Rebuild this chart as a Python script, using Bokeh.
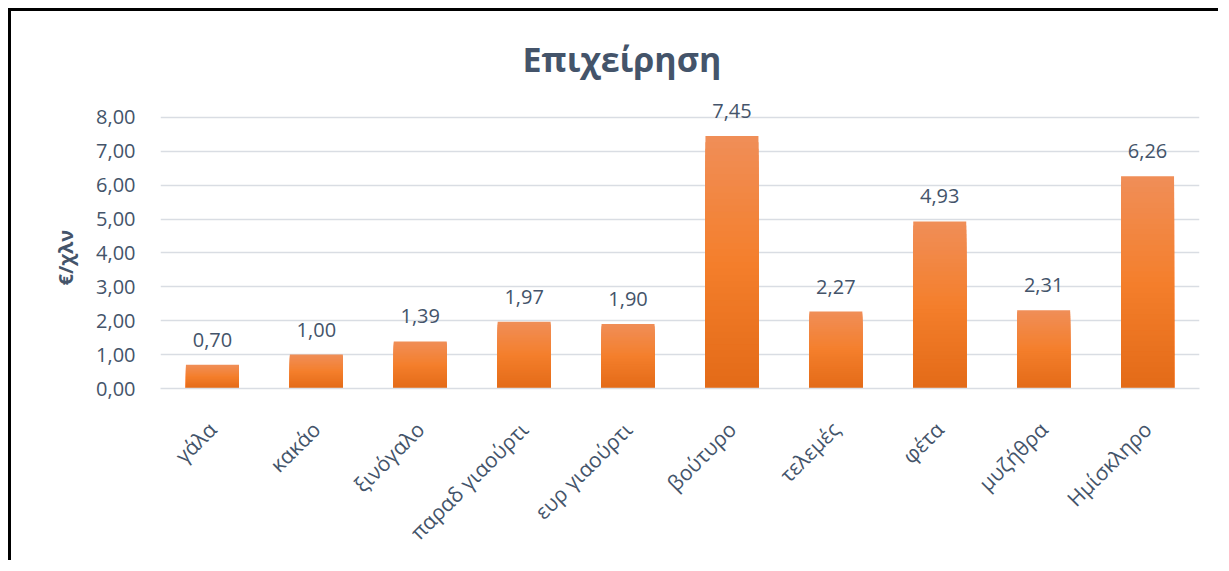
import math
from bokeh.plotting import figure
from bokeh.models import (ColumnDataSource, FactorRange, Range1d, FixedTicker,
                          CustomJSTickFormatter, LabelSet, Title)
from bokeh.core.properties import value
from bokeh.embed import file_html
from bokeh.resources import INLINE

categories = ["γάλα", "κακάο", "ξινόγαλο", "παραδ γιαούρτι", "ευρ γιαούρτι",
              "βούτυρο", "τελεμές", "φέτα", "μυζήθρα", "Ημίσκληρο"]
values = [0.70, 1.00, 1.39, 1.97, 1.90, 7.45, 2.27, 4.93, 2.31, 6.26]
y_ticks = [0, 1, 2, 3, 4, 5, 6, 7, 8]
title_text = "Επιχείρηση"
y_label = "€/χλν"

TEXT = "#44546A"
FONT = "Open Sans"

# gradient stops (bottom -> middle -> top)
stops = [(0.0, (0xE3, 0x6A, 0x17)), (0.5, (0xF4, 0x7F, 0x2C)), (1.0, (0xF0, 0x8E, 0x58))]


def grad(t):
    for (t0, c0), (t1, c1) in zip(stops[:-1], stops[1:]):
        if t <= t1:
            f = (t - t0) / (t1 - t0)
            return "#%02x%02x%02x" % tuple(int(round(a + (b - a) * f)) for a, b in zip(c0, c1))
    return "#%02x%02x%02x" % stops[-1][1]


N = 40
xs, tops, cols = [], [], []
for k in range(N - 1, -1, -1):
    for c, v in zip(categories, values):
        xs.append(c)
        tops.append(v * (k + 1) / N)
        cols.append(grad((k + 0.5) / N))
bars = ColumnDataSource(dict(x=xs, top=tops, color=cols))

p = figure(x_range=FactorRange(factors=categories, range_padding=0),
           y_range=Range1d(0, 9),
           width=1210, height=552, output_backend="svg", toolbar_location=None,
           min_border_left=149, min_border_right=22, min_border_top=72, min_border_bottom=175)
p.styles = {"border-top": "3px solid black", "border-left": "3px solid black",
            "margin-left": "8px", "margin-top": "8px"}

p.vbar(x="x", top="top", bottom=0, width=0.51, source=bars, fill_color="color", line_color=None)

lab_src = ColumnDataSource(dict(x=categories, y=values,
                                t=[f"{v:.2f}".replace(".", ",") for v in values]))
p.add_layout(LabelSet(x="x", y="y", text="t", source=lab_src, y_offset=18,
                      text_align="center", text_baseline="alphabetic",
                      text_font=value(FONT), text_font_size="20px", text_color=TEXT))

p.add_layout(Title(text=y_label, align="left", offset=103, standoff=30, text_font=FONT,
                   text_font_size="20px", text_font_style="bold", text_color=TEXT), "left")

p.title.text = title_text
p.title.align = "left"
p.title.offset = 362
p.title.text_font = FONT
p.title.text_font_size = "34px"
p.title.text_font_style = "bold"
p.title.text_color = TEXT
p.title.standoff = 3

p.outline_line_color = None
p.xgrid.grid_line_color = None
p.ygrid.grid_line_color = "#D9DDE3"
p.ygrid.grid_line_width = 1.3

p.yaxis.ticker = FixedTicker(ticks=y_ticks)
p.yaxis.formatter = CustomJSTickFormatter(code="return tick.toFixed(2).replace('.', ',');")
p.yaxis.axis_line_color = None
p.yaxis.major_tick_line_color = None
p.yaxis.minor_tick_line_color = None
p.yaxis.major_label_text_font = FONT
p.yaxis.major_label_text_font_size = "20px"
p.yaxis.major_label_text_color = TEXT
p.yaxis.major_label_standoff = 19

p.xaxis.axis_line_color = "#D9DDE3"
p.xaxis.axis_line_width = 1.5
p.xaxis.major_tick_line_color = None
p.xaxis.minor_tick_line_color = None
p.xaxis.major_label_orientation = math.pi / 4
p.xaxis.major_label_text_font = FONT
p.xaxis.major_label_text_font_size = "21px"
p.xaxis.major_label_text_color = TEXT
p.xaxis.major_label_standoff = 31

open("out.html", "w").write(file_html(p, INLINE))
